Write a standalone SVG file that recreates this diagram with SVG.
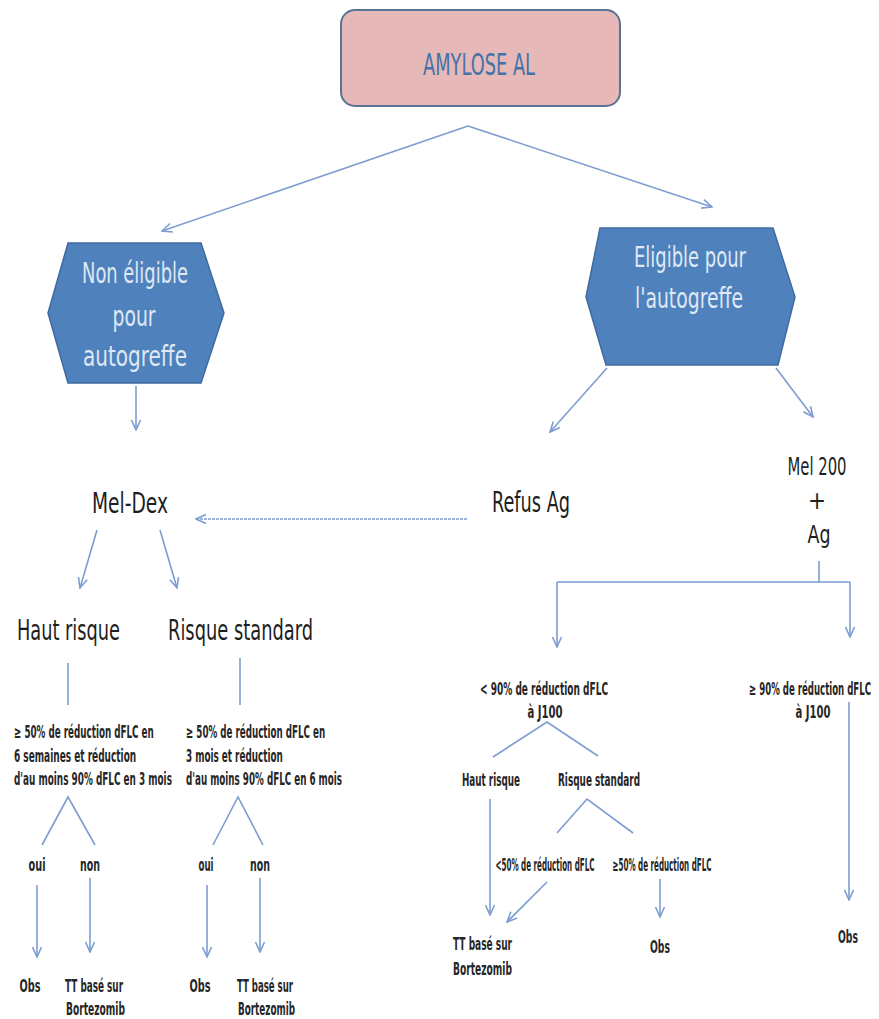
<svg xmlns="http://www.w3.org/2000/svg" width="879" height="1019" viewBox="0 0 879 1019">
<style>
.t{font-family:"Liberation Sans Narrow","DejaVu Sans Condensed","Liberation Sans",sans-serif;fill:#1e1e1e}
.big{font-size:29px}
.mid{font-size:24px}
.sm{font-size:17px;fill:#262626;font-weight:bold}
.hx{fill:#4f81bd;stroke:#3f6b9f;stroke-width:1.5}
.ht{font-family:"Liberation Sans Narrow","DejaVu Sans Condensed","Liberation Sans",sans-serif;fill:#dfe8f4;font-size:28px}
.c{fill:none;stroke:#7d9dd0;stroke-width:1.6}
</style>
<defs>
<marker id="a" viewBox="0 0 12 12" refX="11" refY="6" markerWidth="12" markerHeight="12" orient="auto" markerUnits="userSpaceOnUse">
<path d="M1,1.5 L11,6 L1,10.5" fill="none" stroke="#7d9dd0" stroke-width="1.6"/>
</marker>
</defs>
<rect width="879" height="1019" fill="#ffffff"/>

<g id="n-amylose">
<rect x="341" y="10" width="279" height="96" rx="14" fill="#e6b9b8" stroke="#5a7390" stroke-width="2"/>
<text x="479" y="75" text-anchor="middle" font-family="Liberation Sans Narrow,DejaVu Sans Condensed,Liberation Sans,sans-serif" font-size="30" fill="#4472a8" textLength="112" lengthAdjust="spacingAndGlyphs">AMYLOSE AL</text>
</g>

<g id="n-noneligible">
<polygon class="hx" points="48,313 68,243 201,243 224,313 201,383 68,383"/>
<text class="ht" x="135" y="283" text-anchor="middle" textLength="106" lengthAdjust="spacingAndGlyphs">Non éligible</text>
<text class="ht" x="134" y="326" text-anchor="middle" textLength="43" lengthAdjust="spacingAndGlyphs">pour</text>
<text class="ht" x="135" y="366" text-anchor="middle" textLength="104" lengthAdjust="spacingAndGlyphs">autogreffe</text>
</g>

<g id="n-eligible">
<polygon class="hx" points="586,297 600,228 773,228 795,297 778,365 606,365"/>
<text class="ht" x="690" y="267" text-anchor="middle" font-size="26" textLength="112" lengthAdjust="spacingAndGlyphs">Eligible pour</text>
<text class="ht" x="689" y="308" text-anchor="middle" font-size="26" textLength="108" lengthAdjust="spacingAndGlyphs">l'autogreffe</text>
</g>

<g id="n-meldex"><text class="t big" x="130" y="513" text-anchor="middle" textLength="76" lengthAdjust="spacingAndGlyphs">Mel-Dex</text></g>
<g id="n-refus"><text class="t big" x="531" y="512" text-anchor="middle" textLength="78" lengthAdjust="spacingAndGlyphs">Refus Ag</text></g>
<g id="n-mel200">
<text class="t mid" x="817" y="475" text-anchor="middle" textLength="59" lengthAdjust="spacingAndGlyphs">Mel 200</text>
<text class="t mid" x="817" y="509" text-anchor="middle">+</text>
<text class="t mid" x="819" y="543" text-anchor="middle" textLength="23" lengthAdjust="spacingAndGlyphs">Ag</text>
</g>

<g id="n-hautrisque-l"><text class="t big" x="17" y="640" textLength="103" lengthAdjust="spacingAndGlyphs">Haut risque</text></g>
<g id="n-risquestd-l"><text class="t big" x="168" y="640" textLength="145" lengthAdjust="spacingAndGlyphs">Risque standard</text></g>

<g id="n-crit-l">
<text class="t sm" transform="translate(14,738) scale(0.65,1)" textLength="215" lengthAdjust="spacingAndGlyphs">≥ 50% de réduction dFLC en</text>
<text class="t sm" transform="translate(14,762) scale(0.65,1)" textLength="188" lengthAdjust="spacingAndGlyphs">6 semaines et réduction</text>
<text class="t sm" transform="translate(14,785) scale(0.65,1)" textLength="243" lengthAdjust="spacingAndGlyphs">d'au moins 90% dFLC en 3 mois</text>
</g>
<g id="n-crit-r">
<text class="t sm" transform="translate(186,738) scale(0.65,1)" textLength="214" lengthAdjust="spacingAndGlyphs">≥ 50% de réduction dFLC en</text>
<text class="t sm" transform="translate(186,762) scale(0.65,1)" textLength="149" lengthAdjust="spacingAndGlyphs">3 mois et réduction</text>
<text class="t sm" transform="translate(186,785) scale(0.65,1)" textLength="240" lengthAdjust="spacingAndGlyphs">d'au moins 90% dFLC en 6 mois</text>
</g>

<g id="n-oui1"><text class="t sm" x="37" y="871" text-anchor="middle" textLength="17" lengthAdjust="spacingAndGlyphs">oui</text></g>
<g id="n-non1"><text class="t sm" x="90" y="871" text-anchor="middle" textLength="20" lengthAdjust="spacingAndGlyphs">non</text></g>
<g id="n-oui2"><text class="t sm" x="206" y="871" text-anchor="middle" textLength="15" lengthAdjust="spacingAndGlyphs">oui</text></g>
<g id="n-non2"><text class="t sm" x="260" y="871" text-anchor="middle" textLength="20" lengthAdjust="spacingAndGlyphs">non</text></g>

<g id="n-obs1"><text class="t sm" x="30" y="992" text-anchor="middle" textLength="21" lengthAdjust="spacingAndGlyphs">Obs</text></g>
<g id="n-tt1">
<text class="t sm" x="65" y="992" textLength="58" lengthAdjust="spacingAndGlyphs">TT basé sur</text>
<text class="t sm" x="66" y="1015" textLength="59" lengthAdjust="spacingAndGlyphs">Bortezomib</text>
</g>
<g id="n-obs2"><text class="t sm" x="200" y="992" text-anchor="middle" textLength="21" lengthAdjust="spacingAndGlyphs">Obs</text></g>
<g id="n-tt2">
<text class="t sm" x="237" y="992" textLength="56" lengthAdjust="spacingAndGlyphs">TT basé sur</text>
<text class="t sm" x="238" y="1015" textLength="57" lengthAdjust="spacingAndGlyphs">Bortezomib</text>
</g>

<g id="n-lt90">
<text class="t sm" transform="translate(544,695) scale(0.65,1)" text-anchor="middle" textLength="197" lengthAdjust="spacingAndGlyphs">&lt; 90% de réduction dFLC</text>
<text class="t sm" transform="translate(545,718) scale(0.65,1)" text-anchor="middle" textLength="54" lengthAdjust="spacingAndGlyphs">à J100</text>
</g>
<g id="n-ge90">
<text class="t sm" transform="translate(810,695) scale(0.5,1)" text-anchor="middle" textLength="244" lengthAdjust="spacingAndGlyphs">≥ 90% de réduction dFLC</text>
<text class="t sm" transform="translate(813,718) scale(0.5,1)" text-anchor="middle" textLength="70" lengthAdjust="spacingAndGlyphs">à J100</text>
</g>
<g id="n-hautrisque-r"><text class="t sm" x="491" y="786" text-anchor="middle" textLength="58" lengthAdjust="spacingAndGlyphs">Haut risque</text></g>
<g id="n-risquestd-r"><text class="t sm" x="599" y="786" text-anchor="middle" textLength="82" lengthAdjust="spacingAndGlyphs">Risque standard</text></g>
<g id="n-lt50"><text class="t sm" transform="translate(545,871) scale(0.5,1)" text-anchor="middle" textLength="198" lengthAdjust="spacingAndGlyphs">&lt;50% de réduction dFLC</text></g>
<g id="n-ge50"><text class="t sm" transform="translate(662,871) scale(0.5,1)" text-anchor="middle" textLength="198" lengthAdjust="spacingAndGlyphs">≥50% de réduction dFLC</text></g>
<g id="n-tt3">
<text class="t sm" x="453" y="950" textLength="59" lengthAdjust="spacingAndGlyphs">TT basé sur</text>
<text class="t sm" x="453" y="975" textLength="59" lengthAdjust="spacingAndGlyphs">Bortezomib</text>
</g>
<g id="n-obs3"><text class="t sm" x="660" y="953" text-anchor="middle" textLength="20" lengthAdjust="spacingAndGlyphs">Obs</text></g>
<g id="n-obs4"><text class="t sm" x="848" y="943" text-anchor="middle" textLength="20" lengthAdjust="spacingAndGlyphs">Obs</text></g>

<g id="connectors">
<line class="c" x1="468" y1="126" x2="162" y2="231" marker-end="url(#a)"/>
<line class="c" x1="468" y1="126" x2="712" y2="207" marker-end="url(#a)"/>
<line class="c" x1="136" y1="386" x2="136" y2="430" marker-end="url(#a)"/>
<line class="c" x1="607" y1="368" x2="550" y2="432" marker-end="url(#a)"/>
<line class="c" x1="776" y1="368" x2="813" y2="417" marker-end="url(#a)"/>
<line class="c" x1="467" y1="519" x2="196" y2="519" stroke-dasharray="3 1" marker-end="url(#a)"/>
<line class="c" x1="97" y1="530" x2="80" y2="588" marker-end="url(#a)"/>
<line class="c" x1="160" y1="530" x2="177" y2="588" marker-end="url(#a)"/>
<line class="c" x1="68" y1="663" x2="68" y2="705"/>
<line class="c" x1="240" y1="658" x2="240" y2="705"/>
<polyline class="c" points="42,845 68,797 95,845"/>
<polyline class="c" points="213,845 238,797 263,845"/>
<line class="c" x1="37" y1="885" x2="37" y2="957" marker-end="url(#a)"/>
<line class="c" x1="90" y1="878" x2="90" y2="952" marker-end="url(#a)"/>
<line class="c" x1="207" y1="885" x2="207" y2="957" marker-end="url(#a)"/>
<line class="c" x1="260" y1="878" x2="260" y2="952" marker-end="url(#a)"/>
<line class="c" x1="819" y1="561" x2="819" y2="582"/>
<line class="c" x1="557" y1="582" x2="850" y2="582"/>
<line class="c" x1="557" y1="582" x2="557" y2="647" marker-end="url(#a)"/>
<line class="c" x1="850" y1="582" x2="850" y2="637" marker-end="url(#a)"/>
<polyline class="c" points="493,757 547,722 598,756"/>
<line class="c" x1="849" y1="702" x2="849" y2="900" marker-end="url(#a)"/>
<line class="c" x1="490" y1="799" x2="490" y2="915" marker-end="url(#a)"/>
<polyline class="c" points="557,833 587,799 633,833"/>
<line class="c" x1="547" y1="882" x2="507" y2="922" marker-end="url(#a)"/>
<line class="c" x1="660" y1="879" x2="660" y2="917" marker-end="url(#a)"/>
</g>
</svg>
